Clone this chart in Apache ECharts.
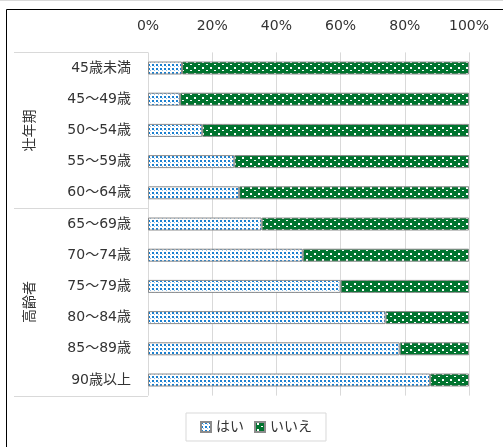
<!DOCTYPE html>
<html><head><meta charset="utf-8">
<script src="https://cdn.jsdelivr.net/npm/echarts@6/dist/echarts.min.js"></script>
<style>html,body{margin:0;padding:0;background:#fff;}#c{width:503px;height:447px;}</style>
</head><body><div id="c"></div>
<script>
var categories = ['45歳未満','45～49歳','50～54歳','55～59歳','60～64歳','65～69歳','70～74歳','75～79歳','80～84歳','85～89歳','90歳以上'];
var hai = [10.6, 10.0, 16.9, 26.9, 28.4, 35.4, 48.2, 60.0, 74.0, 78.4, 87.9];
var iie = [89.4, 90.0, 83.1, 73.1, 71.6, 64.6, 51.8, 40.0, 26.0, 21.6, 12.1];
var groups = [{name:'壮年期', from:0, to:4}, {name:'高齢者', from:5, to:10}];
var tickLabels = ['0%','20%','40%','60%','80%','100%'];
var seriesNames = ['はい','いいえ'];

function makeHai(){
  var c=document.createElement('canvas');c.width=4;c.height=4;
  var x=c.getContext('2d');x.fillStyle='#ffffff';x.fillRect(0,0,4,4);
  x.fillStyle='#1a7fcf';x.fillRect(0,0,2,2);x.fillStyle='#8cc0ea';x.fillRect(2,2,1,1);
  return c;
}
function makeIie(){
  var c=document.createElement('canvas');c.width=8;c.height=6;
  var x=c.getContext('2d');x.fillStyle='#00742f';x.fillRect(0,0,8,6);
  x.fillStyle='#ffffff';x.fillRect(2,1,2,2);
  x.fillStyle='#ffffff';x.fillRect(6,4,2,1);
  return c;
}
var pHai={image:makeHai(),repeat:'repeat'};
var pIie={image:makeIie(),repeat:'repeat'};
var FONT='"DejaVu Sans","Noto Sans CJK JP",sans-serif';
var chart=echarts.init(document.getElementById('c'),null,{renderer:'canvas'});
var option={
  animation:false,
  backgroundColor:'#ffffff',
  grid:{left:148,right:34,top:52.4,height:343.2},
  xAxis:{type:'value',position:'top',min:0,max:100,interval:20,
    axisLine:{show:false},axisTick:{show:false},
    splitLine:{lineStyle:{color:'#d9d9d9',width:1}},
    axisLabel:{margin:19,fontSize:14,color:'#333333',fontFamily:FONT,
      formatter:function(v){return tickLabels[Math.round(v/20)];}}},
  yAxis:{type:'category',inverse:true,data:categories,
    axisLine:{show:false},axisTick:{show:false},
    axisLabel:{margin:17,fontSize:14,color:'#333333',fontFamily:FONT}},
  legend:{left:186,top:413,width:141,height:31,padding:[7,14,7,14],itemGap:10,
    borderColor:'#d9d9d9',borderWidth:1,itemWidth:10,itemHeight:10,icon:'rect',
    textStyle:{fontSize:14,color:'#333333',fontFamily:FONT},
    data:seriesNames},
  series:[
    {name:seriesNames[0],type:'bar',stack:'s',barWidth:13,data:hai,
      itemStyle:{color:pHai,borderColor:'#8c8c8c',borderWidth:1}},
    {name:seriesNames[1],type:'bar',stack:'s',barWidth:13,data:iie,
      itemStyle:{color:pIie,borderColor:'#8c8c8c',borderWidth:1}}
  ]
};
chart.setOption(option);

// annotations: group separators and group labels
var gr=[];
var y0=chart.convertToPixel({yAxisIndex:0},categories[0]);
var y1=chart.convertToPixel({yAxisIndex:0},categories[1]);
var step=y1-y0;
var xAxisLeft=chart.convertToPixel({xAxisIndex:0},0);
function hline(y){gr.push({type:'line',shape:{x1:14,y1:y,x2:xAxisLeft,y2:y},style:{stroke:'#d9d9d9',lineWidth:1},silent:true});}
groups.forEach(function(g,i){
  var top=chart.convertToPixel({yAxisIndex:0},categories[g.from])-step/2;
  var bot=chart.convertToPixel({yAxisIndex:0},categories[g.to])+step/2;
  if(i===0) hline(Math.round(top)+0.5);
  hline(Math.round(bot)+0.5);
  gr.push({type:'text',x:30,y:(top+bot)/2,rotation:Math.PI/2,
    style:{text:g.name,font:'14px '+FONT,fill:'#333333',textAlign:'center',textVerticalAlign:'middle'},silent:true});
});
// outer frame
gr.push({type:'line',shape:{x1:0,y1:0.5,x2:503,y2:0.5},style:{stroke:'#d9d9d9',lineWidth:1},silent:true});
gr.push({type:'line',shape:{x1:6.5,y1:9.5,x2:503,y2:9.5},style:{stroke:'#000000',lineWidth:1},silent:true});
gr.push({type:'line',shape:{x1:6.5,y1:9.5,x2:6.5,y2:447},style:{stroke:'#000000',lineWidth:1},silent:true});
chart.setOption({graphic:gr});
</script>
</body></html>
